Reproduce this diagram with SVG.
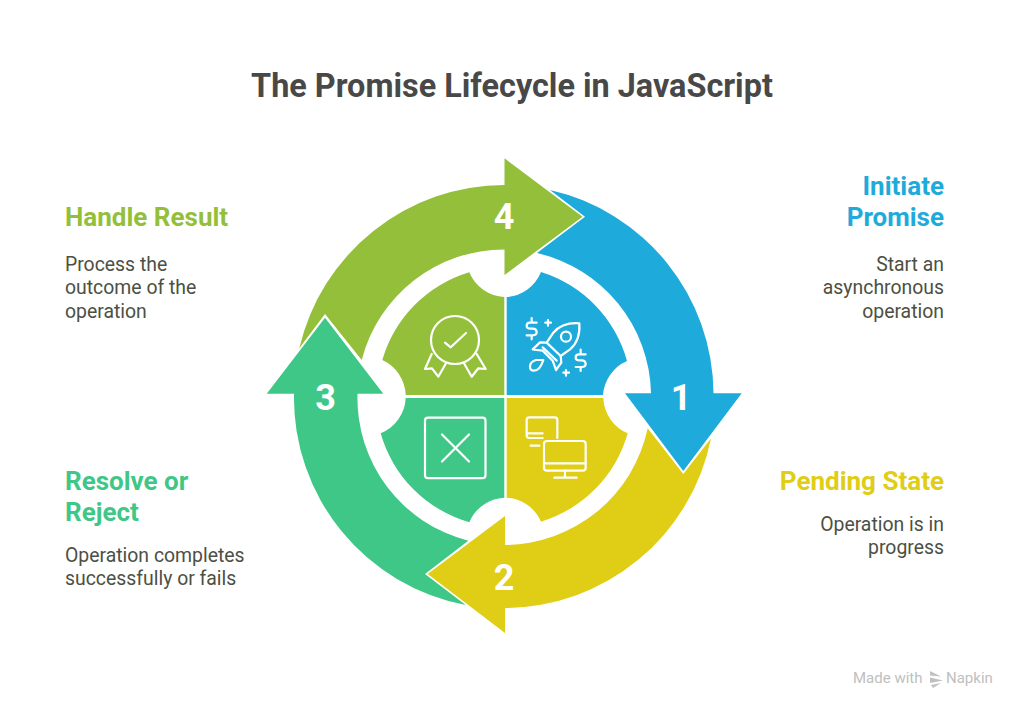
<svg xmlns="http://www.w3.org/2000/svg" width="1024" height="714" viewBox="0 0 1024 714">
<style>
text{font-family:Roboto,"Liberation Sans",sans-serif}
.title{font-size:32.4px;font-weight:700;fill:#484848}
.h{font-size:26px;font-weight:700}
.b{font-size:19.4px;fill:#4c5044}
.n{font-size:36px;font-weight:700;fill:#fff;text-anchor:middle}
.f{font-size:15px;fill:#c0c0c0}
.e{text-anchor:end}
.i{fill:none;stroke:#fff;stroke-width:6.6;stroke-linecap:round;stroke-linejoin:round}
.t{stroke-width:2.2}
.blue{fill:#1eabdc}.yellow{fill:#e0cd15}.teal{fill:#3fc787}.green{fill:#93bf3a}
</style>
<rect width="1024" height="714" fill="#fff"/>
<text class="title" x="512" y="97" text-anchor="middle">The Promise Lifecycle in JavaScript</text>
<g id="connectors">
<path class="blue" d="M550,190 L585,216.700 L537,253 A147,147 0 0 1 651,393.300 H625 L683.300,471 L741.700,393.300 H713.500 A210,210 0 0 0 550,190 Z"/>
<path class="yellow" d="M711,438.300 L683.300,474 L647.700,428.300 A147,147 0 0 1 505,545 V516 L427.700,574 L505,633 V608 A211,211 0 0 0 711,438.300 Z"/>
<path class="teal" d="M465.700,605 L425,574 L468.300,540.700 A147,147 0 0 1 357.500,393.800 H383.300 L325,317.700 L266.700,393.800 H294 A211,211 0 0 0 465.700,605 Z"/>
<path class="green" d="M299.300,348.300 L325,314 L361.700,360 A147,147 0 0 1 504.500,249.500 V275 L582.500,216.700 L504.500,158.300 V185 A211,211 0 0 0 299.300,348.300 Z"/>
</g>
<g id="node-1">
<path class="blue" d="M506.700,297 A40,40 0 0 0 541,272 A129,129 0 0 1 627,361 A40,40 0 0 0 603,395 H506.700 Z"/>
<g class="i" transform="translate(520,310) scale(.3333)">
<path d="M178,40 C150,38 120,45 100,68 L80,98 L122,138 L150,118 C172,100 180,70 178,40 Z"/>
<circle cx="138" cy="80" r="15"/>
<path d="M80,98 L60,97 L38,118 L68,122 M122,138 L124,158 L108,180 L98,152 M68,112 L110,152 M68,122 L98,152"/>
<path d="M70,150 H48 Q30,155 30,170 Q30,182 42,182 Q60,182 70,150 Z"/>
<path d="M50,38 H30 Q20,38 20,48 Q20,56 32,56 H38 Q50,56 50,67 Q50,76 38,76 H20 M35,24 V38 M35,76 V88"/>
<path d="M197,133 H177 Q167,133 167,143 Q167,151 179,151 H185 Q197,151 197,162 Q197,171 185,171 H167 M182,119 V133 M182,171 V183"/>
<path d="M84,30 V47 M76,38 H93 M138,180 V197 M130,188 H147"/>
</g>
<text class="n" x="681" y="409.500">1</text>
<text class="h e blue" x="944" y="194.500">Initiate</text>
<text class="h e blue" x="944" y="225.500">Promise</text>
<text class="b e" x="944" y="270.500">Start an</text>
<text class="b e" x="944" y="294">asynchronous</text>
<text class="b e" x="944" y="317.500">operation</text>
</g>
<g id="node-2">
<path class="yellow" d="M506.700,398 H603.300 A40,40 0 0 0 627.700,433.300 A129,129 0 0 1 541,521.700 A40,40 0 0 0 506.700,497.700 Z"/>
<g class="i" transform="translate(520,410) scale(.3333)">
<path d="M68,84 H28 Q20,84 20,76 V30 Q20,22 28,22 H104 Q112,22 112,30 V84 M20,70 H68 M32,107 H58"/>
<rect x="72" y="93" width="125" height="89" rx="9"/>
<path d="M72,160 H197 M135,182 V202 M103,203 H170"/>
</g>
<text class="n" x="504" y="589.500">2</text>
<text class="h e yellow" x="944" y="489.500">Pending State</text>
<text class="b e" x="944" y="530.500">Operation is in</text>
<text class="b e" x="944" y="553.500">progress</text>
</g>
<g id="node-3">
<path class="teal" d="M405.700,398 H504.300 V497.700 A40,40 0 0 0 469.300,522.300 A129,129 0 0 1 380.700,433.300 A40,40 0 0 0 405.700,398 Z"/>
<g class="i t" transform="translate(260,390)">
<rect x="165" y="27.700" width="60.500" height="60.500" rx="3"/>
<path d="M182,44.500 L209,71.500 M209,44.500 L182,71.500"/>
</g>
<text class="n" x="325.500" y="409.500">3</text>
<text class="h teal" x="65" y="489.500">Resolve or</text>
<text class="h teal" x="65" y="520.500">Reject</text>
<text class="b" x="65" y="561.500">Operation completes</text>
<text class="b" x="65" y="585">successfully or fails</text>
</g>
<g id="node-4">
<path class="green" d="M504.300,297 V395 H405.700 A40,40 0 0 0 382.300,360 A129,129 0 0 1 469.300,272.300 A40,40 0 0 0 504.300,297 Z"/>
<g class="i t">
<circle cx="455" cy="340" r="24"/>
<path d="M445,342.700 L450.700,347.300 L466,333"/>
<path d="M431.700,354 L425,369 L432,368.300 L438.300,376.700 L446,363.300 M476.700,354 L485.700,369 L478.300,368.300 L471.700,376.700 L464,363.300"/>
</g>
<text class="n" x="504" y="229">4</text>
<text class="h green" x="65" y="225.500">Handle Result</text>
<text class="b" x="65" y="270.500">Process the</text>
<text class="b" x="65" y="294">outcome of the</text>
<text class="b" x="65" y="317.500">operation</text>
</g>
<g id="footer" fill="#c0c0c0">
<text class="f" x="853" y="683">Made with</text>
<path d="M930,671 L941,676.500 L930,675.500 Z M930,677.500 L943,680.500 L930,683 Z M931,685 L941,683 L933,688 Z"/>
<text class="f" x="946" y="683">Napkin</text>
</g>
</svg>
